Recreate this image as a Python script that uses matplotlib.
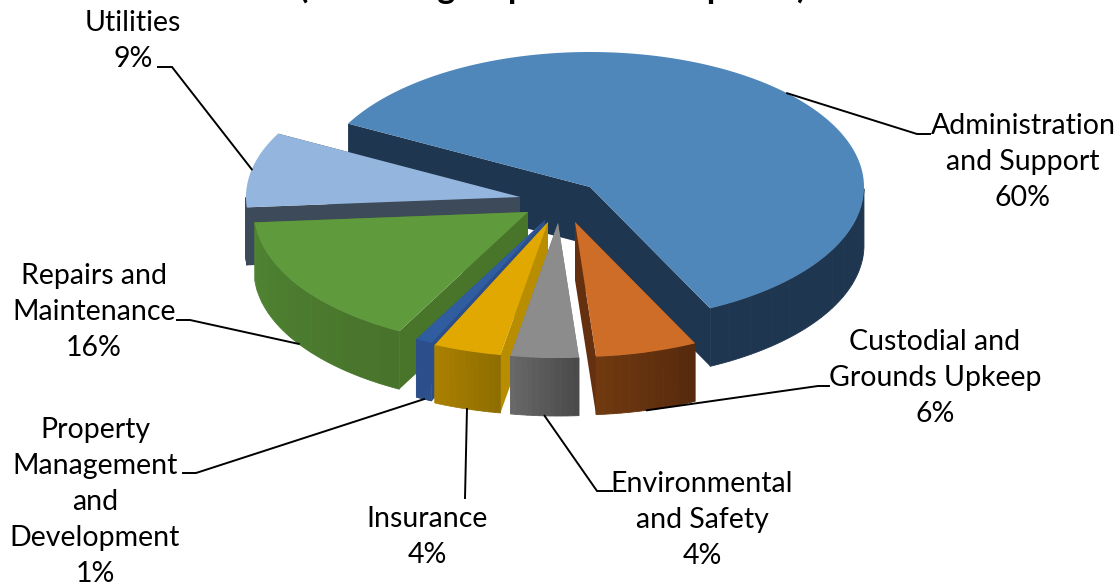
import numpy as np
import matplotlib
matplotlib.use("Agg")
import matplotlib.pyplot as plt
from matplotlib.colors import to_rgb
from matplotlib.patches import Polygon

plt.rcParams['font.family'] = ['Lato', 'DejaVu Sans']

# DATA
names = ['Administration\nand Support', 'Custodial and\nGrounds Upkeep', 'Environmental\nand Safety',
         'Insurance', 'Property\nManagement\nand\nDevelopment', 'Repairs and\nMaintenance', 'Utilities']
shares = [60, 6, 4, 4, 1, 16, 9]
title = '(Excluding Depreciation Expense)'

# STYLE, one entry per slice
apex_x = [590, 575, 558, 548, 545, 528, 520]
apex_y = [187, 222, 223, 222, 220, 212, 197]
top_colors = ['#4f87ba', '#ce6d28', '#8c8c8c', '#e0a800', '#2f5da0', '#5f9b3d', '#94b6de']
wall_left = ['#1f3650', '#70390f', '#686868', '#aa8000', '#2c4e8a', '#4f8432', '#3d4a5a']
wall_right = ['#1f3650', '#572a0e', '#4a4a4a', '#8f6e00', '#2c4e8a', '#48732b', '#3d4a5a']
inner_colors = ['#1f3650', '#653010', '#7a7a7a', '#b88e00', '#2c4e8a', '#49752b', '#3d4a5a']
label_x = [1023, 935, 702, 427, 95, 94, 133]
label_y = [162, 378, 520, 537, 502, 312, 41]
# elbow and end of each leader line
elbow = [(917, 134), (818, 386), (597, 491), (465, 498), (196, 473), (190, 320), (172, 67)]
leader_end = [(930, 134), (829, 386), (612, 491), (465, 498), (183, 473), (177, 320), (158, 67)]
draw_order = [0, 6, 5, 4, 3, 2, 1]

rx, ry, depth = 274, 135, 58
start_angle = 152
n_bands = 12

fig = plt.figure(figsize=(11.2, 5.87), dpi=100)
ax = fig.add_axes([0, 0, 1, 1])
ax.set_xlim(0, 1120)
ax.set_ylim(587, 0)
ax.axis('off')

# slice angles come from the shares, clockwise from the start angle
ends = start_angle - np.cumsum(shares) * 3.6
starts = np.r_[start_angle, ends[:-1]]


def rim(i, deg):
    t = np.radians(deg)
    return apex_x[i] + rx * np.cos(t), apex_y[i] - ry * np.sin(t)


def draw_slice(i, z):
    t = np.linspace(starts[i], ends[i], 240)
    x, y = rim(i, t)
    cx, cy = apex_x[i], apex_y[i]
    # cut faces
    for px, py in [(x[0], y[0]), (x[-1], y[-1])]:
        ax.add_patch(Polygon([(cx, cy), (px, py), (px, py + depth), (cx, cy + depth)],
                             fc=inner_colors[i], ec='none', zorder=z))
    # outer wall, only the part that faces us, in vertical bands
    front = np.sin(np.radians(t)) < 0
    order = np.argsort(x[front])
    xf, yf = x[front][order], y[front][order]
    left, right = np.array(to_rgb(wall_left[i])), np.array(to_rgb(wall_right[i]))
    cuts = np.linspace(0, len(xf) - 1, n_bands + 1).astype(int)
    for k in range(n_bands):
        a, b = cuts[k], cuts[k + 1] + 1
        c = left + (right - left) * k / (n_bands - 1)
        ax.add_patch(Polygon(np.r_[np.c_[xf[a:b], yf[a:b]], np.c_[xf[a:b], yf[a:b] + depth][::-1]],
                             fc=c, ec=c, lw=0.6, zorder=z))
    # top
    ax.add_patch(Polygon(np.r_[[(cx, cy)], np.c_[x, y]], fc=top_colors[i], ec='none', zorder=z + 0.5))


for z, i in enumerate(draw_order):
    draw_slice(i, z + 2)

for i in range(len(shares)):
    mid = (starts[i] + ends[i]) / 2
    mx, my = rim(i, mid)
    # leader starts at the bottom of the wall for slices facing us
    if np.sin(np.radians(mid)) < 0:
        my += depth
    ax.plot([mx, elbow[i][0], leader_end[i][0]], [my, elbow[i][1], leader_end[i][1]],
            color='black', lw=1.4, zorder=20, solid_joinstyle='miter')
    ax.text(label_x[i], label_y[i], '%s\n%d%%' % (names[i], shares[i]), ha='center', va='center',
            fontsize=20.5, linespacing=1.48, color='black', zorder=21)

ax.text(553, -2, title, ha='center', va='baseline', fontsize=24.6, fontweight='bold', color='black')

plt.savefig('out.png', dpi=100)
